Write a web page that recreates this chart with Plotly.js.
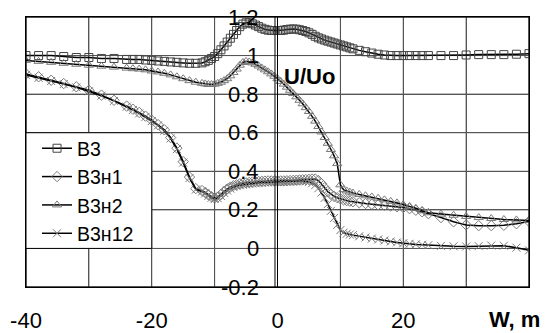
<!DOCTYPE html>
<html>
<head>
<meta charset="utf-8">
<script src="https://cdn.plot.ly/plotly-3.0.1.min.js"></script>
<style>html,body{margin:0;padding:0;background:#fff;}#chart{width:551px;height:333px;}</style>
</head>
<body>
<div id="chart"></div>
<script>
// Sample positions W, m
const xs = [-40,-38,-36,-34,-32,-30,-28,-26,
  -24,-23,-22,-21,-20,-19,-18,-17,-16,-15,-14,-13,-12,
  -11.5,-11,-10.5,-10,-9.5,-9,-8.5,-8,-7.5,-7,-6.5,-6,-5.5,-5,-4.5,-4,-3.5,-3,-2.5,-2,-1.5,-1,-0.5,0,
  0.5,1,1.5,2,2.5,3,3.5,4,4.5,5,5.5,6,6.5,7,7.5,8,8.5,9,9.5,10,10.5,11,11.5,
  12,13,14,15,16,17,18,19,20,21,22,23,24,
  26,28,30,32,34,36,38,40];

const b3 = [1.00,1.00,1.00,0.995,0.99,0.99,0.985,0.985,
  0.98,0.98,0.98,0.977,0.975,0.972,0.97,0.967,0.965,0.962,0.96,0.96,0.962,
  0.968,0.975,0.985,0.995,1.01,1.03,1.05,1.07,1.09,1.11,1.13,1.15,1.163,1.17,1.17,1.165,1.158,1.15,1.142,1.136,1.132,1.13,1.13,1.13,
  1.13,1.132,1.135,1.137,1.138,1.137,1.134,1.13,1.125,1.118,1.11,1.10,1.092,1.086,1.08,1.075,1.07,1.065,1.06,1.055,1.05,1.045,1.04,
  1.035,1.027,1.02,1.013,1.007,1.003,1.0,1.0,1.0,1.0,1.0,1.0,1.0,
  1.0,1.0,1.003,1.005,1.005,1.005,1.007,1.01];

const b3n1 = [0.905,0.89,0.872,0.855,0.838,0.82,0.795,0.768,
  0.738,0.722,0.705,0.686,0.665,0.642,0.615,0.575,0.52,0.45,0.37,0.31,0.30,
  0.29,0.278,0.268,0.262,0.266,0.28,0.295,0.308,0.318,0.325,0.33,0.335,0.338,0.34,0.342,0.344,0.346,0.347,0.348,0.349,0.35,0.35,0.35,0.35,
  0.35,0.35,0.351,0.352,0.353,0.354,0.355,0.356,0.357,0.358,0.36,0.36,0.352,0.335,0.315,0.295,0.28,0.27,0.263,0.257,0.252,0.248,0.245,
  0.242,0.237,0.233,0.229,0.226,0.223,0.22,0.216,0.212,0.206,0.198,0.19,0.18,
  0.16,0.138,0.122,0.118,0.118,0.12,0.128,0.14];

const b3n2 = [0.975,0.97,0.965,0.96,0.955,0.95,0.945,0.94,
  0.935,0.932,0.93,0.926,0.92,0.915,0.908,0.90,0.89,0.88,0.87,0.862,0.856,
  0.853,0.85,0.85,0.852,0.856,0.862,0.87,0.88,0.895,0.912,0.93,0.95,0.964,0.97,0.967,0.962,0.955,0.946,0.936,0.926,0.916,0.905,0.893,0.88,
  0.866,0.852,0.836,0.82,0.803,0.786,0.768,0.75,0.73,0.71,0.685,0.66,0.632,0.604,0.575,0.545,0.513,0.48,0.44,0.33,0.305,0.298,0.292,
  0.287,0.28,0.273,0.267,0.26,0.252,0.244,0.236,0.227,0.218,0.208,0.195,0.185,
  0.178,0.172,0.166,0.16,0.155,0.15,0.148,0.145];

const b3n12 = [0.90,0.885,0.868,0.852,0.835,0.815,0.792,0.765,
  0.735,0.718,0.70,0.682,0.66,0.638,0.61,0.57,0.515,0.445,0.365,0.305,0.295,
  0.285,0.272,0.262,0.256,0.26,0.272,0.288,0.30,0.31,0.318,0.323,0.327,0.33,0.333,0.335,0.337,0.338,0.34,0.341,0.342,0.343,0.344,0.345,0.345,
  0.345,0.345,0.346,0.347,0.348,0.349,0.35,0.35,0.348,0.345,0.338,0.328,0.312,0.29,0.262,0.23,0.195,0.158,0.122,0.095,0.082,0.076,0.072,
  0.069,0.063,0.057,0.051,0.046,0.041,0.036,0.031,0.027,0.024,0.021,0.019,0.017,
  0.013,0.011,0.01,0.012,0.015,0.014,0.004,-0.01];

const seriesNames = ['B3', 'B3н1', 'B3н2', 'B3н12'];
const xRange = [-40, 40];
const yRange = [-0.2, 1.2];
const xGridVals = [-40, -30, -20, -10, 0, 10, 20, 30, 40];
const xGridText = ['-40', '', '-20', '', '0', '', '20', '', ''];
const xTickVals = [-40, -20, 0, 20, 40];
const yTickVals = [-0.2, 0, 0.2, 0.4, 0.6, 0.8, 1.0, 1.2];
const yTickText = ['-0.2', '0', '0.2', '0.4', '0.6', '0.8', '1', '1.2'];

const FONT = 'Liberation Sans, Arial, sans-serif';
const symbols = ['square-open', 'diamond-open', 'triangle-up-open', 'x-thin-open'];
const mcolors = ['#444444', '#7a7a7a', '#7a7a7a', '#7a7a7a'];
const ys = [b3, b3n1, b3n2, b3n12];

// grid lines built from the tick arrays, drawn as one helper trace
const gridX = [], gridY = [];
xGridVals.forEach(v => { gridX.push(v, v, null); gridY.push(yRange[0], yRange[1], null); });
yTickVals.forEach(v => { gridX.push(xRange[0], xRange[1], null); gridY.push(v, v, null); });
const gridTrace = {x: gridX, y: gridY, type: 'scatter', mode: 'lines', showlegend: false, hoverinfo: 'skip',
  line: {color: '#555', width: 1}, cliponaxis: false};

// plot frame and outward tick marks
const frameX = [xRange[0], xRange[1], xRange[1], xRange[0], xRange[0], null];
const frameY = [yRange[0], yRange[0], yRange[1], yRange[1], yRange[0], null];
xTickVals.forEach(v => { frameX.push(v, v, null); frameY.push(yRange[0], yRange[0] - 0.042, null); });
const frameTrace = {x: frameX, y: frameY, type: 'scatter', mode: 'lines', showlegend: false, hoverinfo: 'skip',
  line: {color: '#000', width: 1}, cliponaxis: false};

const traces = [gridTrace].concat(ys.map((y, i) => ({
  x: xs, y: y, name: seriesNames[i], type: 'scatter', mode: 'lines+markers',
  line: {color: '#000', width: 1.5},
  marker: {symbol: symbols[i], size: 8, color: mcolors[i], line: {color: mcolors[i], width: 1}}
}))).concat([frameTrace]);

const tf = {family: FONT, size: 22, color: '#000'};

// y tick labels sit beside the axis that crosses at W = 0
const yLabelAnns = yTickVals.map((v, i) => ({text: yTickText[i], xref: 'x', yref: 'y', x: 0, y: v,
  xanchor: 'right', yanchor: 'middle', xshift: -17, showarrow: false, font: tf}));

const layout = {
  width: 551, height: 333,
  margin: {l: 26, r: 22, t: 17, b: 46},
  font: tf,
  showlegend: true,
  legend: {x: 0.0219, xanchor: 'left', y: 0.585, yanchor: 'top', bgcolor: 'rgba(0,0,0,0)',
    borderwidth: 0, font: {family: FONT, size: 19.5, color: '#000'},
    tracegroupgap: 0, itemwidth: 30},
  xaxis: {range: xRange, tickmode: 'array', tickvals: xGridVals, ticktext: xGridText,
    ticks: 'outside', ticklen: 14, tickcolor: 'rgba(0,0,0,0)', tickfont: tf,
    showgrid: true, gridcolor: '#555', gridwidth: 1, zeroline: false,
    showline: true, linecolor: '#000', linewidth: 1, mirror: true},
  yaxis: {range: yRange, dtick: 0.2, showticklabels: false, ticks: '',
    showgrid: true, gridcolor: '#555', gridwidth: 1, zeroline: false,
    showline: true, linecolor: '#000', linewidth: 1, mirror: true},
  shapes: [
    {type: 'line', xref: 'x', yref: 'paper', x0: 0, x1: 0, y0: 0, y1: 1, line: {color: '#000', width: 1}},
    {type: 'line', xref: 'x', yref: 'paper', x0: -0.4, x1: -0.4, y0: 0, y1: 1, line: {color: '#000', width: 1}},
    {type: 'rect', xref: 'paper', yref: 'paper', x0: 0, x1: 0.25, y0: 0.1429, y1: 0.5714, fillcolor: '#fff', line: {color: '#000', width: 1}, layer: 'above'}
  ],
  annotations: yLabelAnns.concat([
    {text: '<b>U/Uo</b>', xref: 'paper', yref: 'paper', x: 0.509, y: 0.778, xanchor: 'left', yanchor: 'middle', showarrow: false, font: tf},
    {text: '<b>W, m</b>', xref: 'paper', yref: 'paper', x: 0.972, y: -0.122, xanchor: 'center', yanchor: 'middle', showarrow: false, font: tf}
  ])
};

Plotly.newPlot('chart', traces, layout, {displayModeBar: false});
</script>
</body>
</html>
